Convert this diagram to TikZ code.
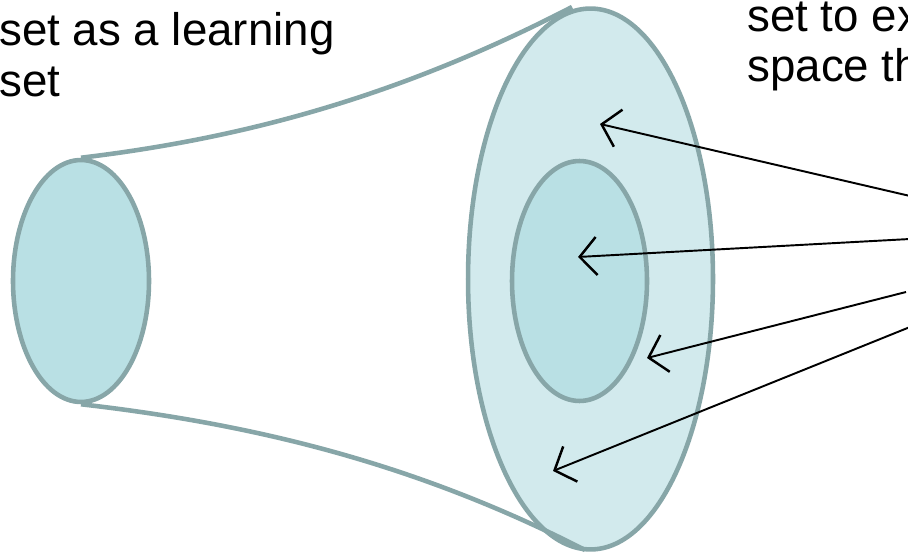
\documentclass[tikz,border=0pt]{standalone}
\usepackage{fontspec}
\setmainfont{Liberation Sans}
\usetikzlibrary{shapes.geometric, arrows.meta}
\definecolor{rim}{RGB}{135,166,168}
\definecolor{pale}{RGB}{210,234,237}
\definecolor{deep}{RGB}{185,224,228}

\begin{document}
\begin{tikzpicture}[x=0.02cm, y=-0.02cm,
  region/.style={draw=rim, ellipse, line width=2.6pt, inner sep=0pt},
  lbl/.style={anchor=base west, inner sep=0pt, font=\fontsize{26}{29}\selectfont},
  pointer/.style={->, line width=1.1pt},
  >={Straight Barb[length=0.34cm, width=0.76cm, line width=1.4pt]}]
  \useasboundingbox (0,0) rectangle (908,553);
  \node[region, fill=deep, minimum width=2.72cm, minimum height=4.84cm] (learn) at (81,281) {};
  \node[region, fill=pale, minimum width=4.9cm, minimum height=10.82cm] (space) at (590.5,279) {};
  \node[region, fill=deep, minimum width=2.7cm, minimum height=4.8cm] (core) at (579.5,281) {};
  \coordinate (toprim) at (572,7);
  \coordinate (botrim) at (585,550);
  \draw[rim, line width=2.6pt] (learn.north) .. controls (247,138) and (402,95) .. (toprim);
  \draw[rim, line width=2.6pt] (learn.south) .. controls (253,424) and (415,463) .. (botrim);
  \node[lbl] (lrnA) at (-1,46) {set as a learning};
  \node[lbl] (lrnB) at (-1,97) {set};
  \node[lbl] (tstA) at (747,32) {set to ex};
  \node[lbl] (tstB) at (747,82) {space th};
  \coordinate (srcA) at (910,196);
  \coordinate (srcB) at (910,239);
  \coordinate (srcC) at (906,292);
  \coordinate (srcD) at (910,327);
  \coordinate (tipA) at (600,124);
  \coordinate (tipB) at (578,257);
  \coordinate (tipC) at (647,358);
  \coordinate (tipD) at (553,471);
  \draw[pointer] (srcA) -- (tipA);
  \draw[pointer] (srcB) -- (tipB);
  \draw[pointer] (srcC) -- (tipC);
  \draw[pointer] (srcD) -- (tipD);
\end{tikzpicture}
\end{document}
